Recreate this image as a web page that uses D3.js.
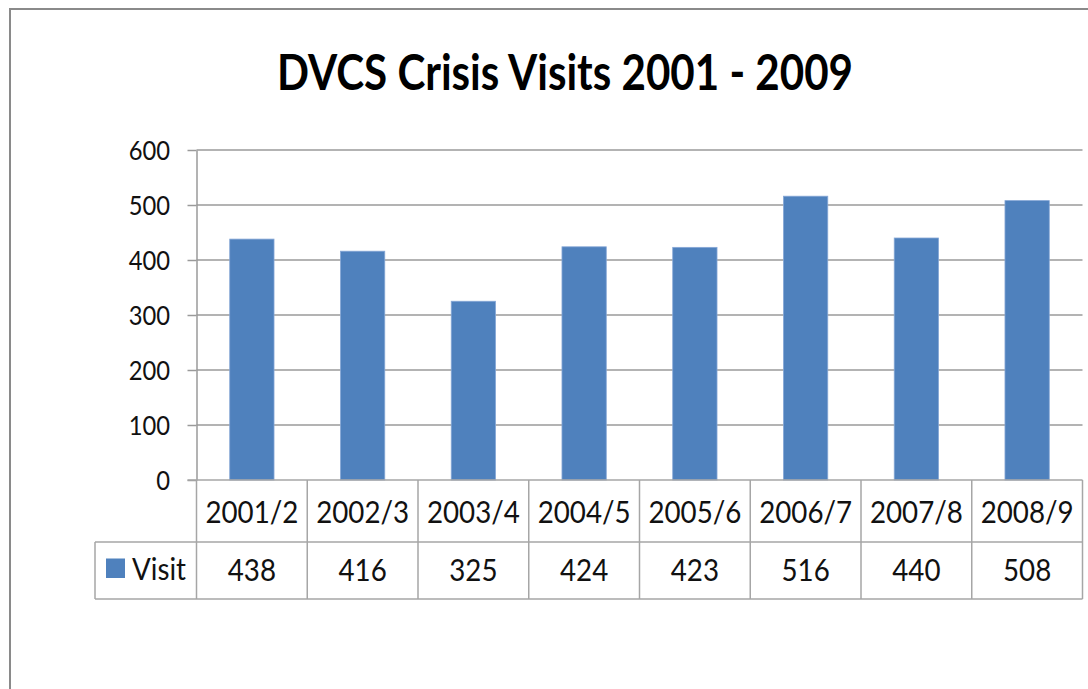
<!DOCTYPE html>
<html>
<head>
<meta charset="utf-8">
<script src="https://cdn.jsdelivr.net/npm/d3@7/dist/d3.min.js"></script>
<style>
  html, body { margin: 0; padding: 0; background: #fff; }
  svg { display: block; }
  text { font-family: Lato, "Open Sans", "Liberation Sans", sans-serif; fill: #111; }
</style>
</head>
<body>
<svg id="chart" width="1088" height="689"></svg>
<script>
// Crisis visits per financial year
const categories = ["2001/2", "2002/3", "2003/4", "2004/5", "2005/6", "2006/7", "2007/8", "2008/9"];
const visits = [438, 416, 325, 424, 423, 516, 440, 508];
const seriesName = "Visit";
const yTicks = [0, 100, 200, 300, 400, 500, 600];
const title = "DVCS Crisis Visits 2001 - 2009";

const svg = d3.select("#chart");
const W = 1088, H = 689;

// Layout
const plot = { left: 196.5, right: 1082.5, top: 150, bottom: 480 };
const table = { legendLeft: 95, catBottom: 542, valBottom: 599 };
const SX = 0.88; // horizontal squeeze applied to label text

const barColor = "#4F81BD";
const gridColor = "#9a9a9a";
const tableColor = "#a6a6a6";

// Outer chart frame (runs off right and bottom edges)
svg.append("rect")
  .attr("x", 10).attr("y", 9)
  .attr("width", W + 20).attr("height", H + 20)
  .attr("fill", "#fff")
  .attr("stroke", "#8a8a8a").attr("stroke-width", 2);

// Title
svg.append("text")
  .attr("x", 565).attr("y", 90)
  .attr("text-anchor", "middle")
  .attr("font-size", 49).attr("font-weight", 700)
  .attr("textLength", 576).attr("lengthAdjust", "spacingAndGlyphs")
  .style("fill", "#000")
  .text(title);

// Scales
const x = d3.scaleBand()
  .domain(categories)
  .range([plot.left, plot.right])
  .paddingInner(0.6)
  .paddingOuter(0.3);

const y = d3.scaleLinear()
  .domain([0, 600])
  .range([plot.bottom, plot.top]);

const step = x.step();
const colLeft = c => x(c) - step * 0.3;

// Horizontal gridlines
svg.append("g")
  .selectAll("line")
  .data(yTicks.filter(v => v > 0))
  .join("line")
  .attr("x1", plot.left).attr("x2", plot.right)
  .attr("y1", d => y(d)).attr("y2", d => y(d))
  .attr("stroke", gridColor).attr("stroke-width", 1.5);

// Bars
svg.append("g")
  .selectAll("rect")
  .data(categories.map((c, i) => ({ c, v: visits[i] })))
  .join("rect")
  .attr("x", d => x(d.c))
  .attr("y", d => y(d.v))
  .attr("width", x.bandwidth())
  .attr("height", d => y(0) - y(d.v))
  .attr("fill", barColor)
  .attr("stroke", "#86a7d6").attr("stroke-width", 0.8);

// Y axis
const yAxis = d3.axisLeft(y)
  .tickValues(yTicks)
  .tickSize(9)
  .tickSizeOuter(0)
  .tickPadding(0);

const gy = svg.append("g")
  .attr("transform", `translate(${plot.left},0)`)
  .call(yAxis);
gy.select(".domain").attr("stroke", gridColor).attr("stroke-width", 1.5);
gy.selectAll(".tick line").attr("stroke", gridColor).attr("stroke-width", 1.5);
gy.selectAll(".tick text").remove();
gy.selectAll(".tick")
  .append("text")
  .attr("text-anchor", "end")
  .attr("font-size", 27)
  .attr("transform", `translate(-26.5, 9.7) scale(${SX},1)`)
  .text(d => d);

// Data table under the axis
const gt = svg.append("g");
const lineAttrs = sel => sel.attr("stroke", tableColor).attr("stroke-width", 1.5);

// Row separators
gt.append("line").attr("x1", plot.left - 9).attr("x2", plot.right)
  .attr("y1", plot.bottom).attr("y2", plot.bottom).call(lineAttrs);
gt.append("line").attr("x1", table.legendLeft).attr("x2", plot.right)
  .attr("y1", table.catBottom).attr("y2", table.catBottom).call(lineAttrs);
gt.append("line").attr("x1", table.legendLeft).attr("x2", plot.right)
  .attr("y1", table.valBottom).attr("y2", table.valBottom).call(lineAttrs);

// Column dividers
const bounds = categories.map(colLeft).concat([plot.right]);
gt.selectAll("line.col")
  .data(bounds)
  .join("line")
  .attr("class", "col")
  .attr("x1", d => d).attr("x2", d => d)
  .attr("y1", plot.bottom).attr("y2", table.valBottom)
  .call(lineAttrs);
gt.append("line").attr("x1", table.legendLeft).attr("x2", table.legendLeft)
  .attr("y1", table.catBottom).attr("y2", table.valBottom).call(lineAttrs);

// Category labels
gt.selectAll("text.cat")
  .data(categories)
  .join("text")
  .attr("class", "cat")
  .attr("text-anchor", "middle")
  .attr("font-size", 31.5)
  .attr("transform", d => `translate(${x(d) + x.bandwidth() / 2}, 523) scale(${SX},1)`)
  .text(d => d);

// Value labels
gt.selectAll("text.val")
  .data(categories.map((c, i) => ({ c, v: visits[i] })))
  .join("text")
  .attr("class", "val")
  .attr("text-anchor", "middle")
  .attr("font-size", 31.5)
  .attr("transform", d => `translate(${x(d.c) + x.bandwidth() / 2}, 581) scale(${SX},1)`)
  .text(d => d.v);

// Legend key in the table's first column
gt.append("rect")
  .attr("x", 106).attr("y", 558.5)
  .attr("width", 19).attr("height", 19.5)
  .attr("fill", barColor);
gt.append("text")
  .attr("font-size", 31.5)
  .attr("transform", `translate(132, 580) scale(${SX},1)`)
  .text(seriesName);
</script>
</body>
</html>
